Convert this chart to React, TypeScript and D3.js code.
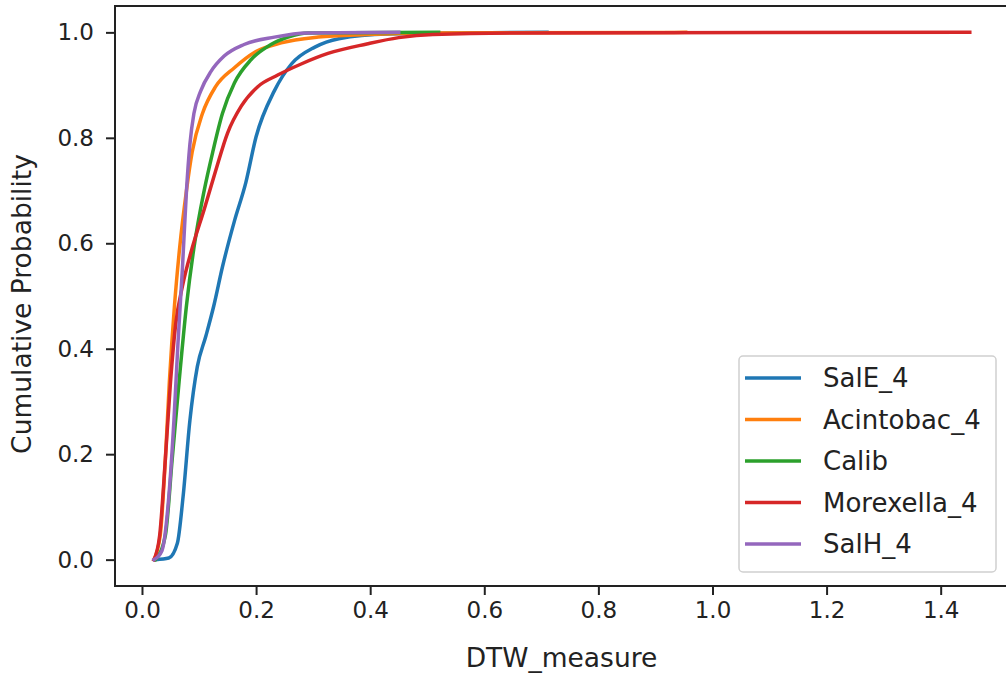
import React, { useEffect, useRef } from "react";
import * as d3 from "d3";

// series names and colours (matplotlib tab10 order)
const seriesNames = ["SalE_4", "Acintobac_4", "Calib", "Morexella_4", "SalH_4"];
const seriesColors = ["#1f77b4", "#ff7f0e", "#2ca02c", "#d62728", "#9467bd"];

// CDF points [DTW_measure, cumulative probability]
const salE4: [number, number][] = [
  [0.024, 0], [0.047, 0.003], [0.062, 0.031], [0.072, 0.119], [0.084, 0.264],
  [0.097, 0.366], [0.112, 0.424], [0.126, 0.482], [0.141, 0.555], [0.162, 0.642],
  [0.182, 0.715], [0.2, 0.802], [0.232, 0.889], [0.262, 0.94], [0.303, 0.972],
  [0.345, 0.988], [0.43, 0.997], [0.71, 1.0],
];
const acintobac4: [number, number][] = [
  [0.021, 0], [0.032, 0.046], [0.041, 0.191], [0.048, 0.337], [0.057, 0.482],
  [0.066, 0.591], [0.078, 0.7], [0.088, 0.773], [0.106, 0.846], [0.129, 0.897],
  [0.162, 0.933], [0.197, 0.962], [0.244, 0.98], [0.309, 0.991], [0.394, 0.996],
  [0.5, 0.999], [0.953, 1.0],
];
const calib: [number, number][] = [
  [0.024, 0], [0.041, 0.046], [0.053, 0.191], [0.065, 0.337], [0.078, 0.482],
  [0.091, 0.591], [0.109, 0.7], [0.124, 0.773], [0.141, 0.846], [0.162, 0.904],
  [0.191, 0.948], [0.226, 0.977], [0.256, 0.991], [0.291, 0.999], [0.52, 1.0],
];
const morexella4: [number, number][] = [
  [0.021, 0], [0.031, 0.046], [0.041, 0.191], [0.05, 0.337], [0.059, 0.446],
  [0.071, 0.519], [0.088, 0.591], [0.109, 0.664], [0.129, 0.737], [0.15, 0.809],
  [0.174, 0.86], [0.203, 0.897], [0.238, 0.919], [0.279, 0.94], [0.326, 0.96],
  [0.394, 0.978], [0.45, 0.99], [0.51, 0.996], [0.7, 0.999], [1.451, 1.0],
];
const salH4: [number, number][] = [
  [0.021, 0], [0.035, 0.017], [0.047, 0.119], [0.056, 0.264], [0.063, 0.409],
  [0.071, 0.555], [0.078, 0.7], [0.084, 0.788], [0.091, 0.846], [0.103, 0.889],
  [0.121, 0.926], [0.144, 0.955], [0.179, 0.977], [0.232, 0.991], [0.289, 0.999],
  [0.45, 1.0],
];
const seriesData = [salE4, acintobac4, calib, morexella4, salH4];

const xTicks = [0, 0.2, 0.4, 0.6, 0.8, 1.0, 1.2, 1.4];
const yTicks = [0, 0.2, 0.4, 0.6, 0.8, 1.0];

const App = () => {
  const svgRef = useRef<SVGSVGElement | null>(null);

  useEffect(() => {
    const width = 1006;
    const height = 677;
    const box = { left: 115, right: 1008, top: 6, bottom: 586 };
    const font = "DejaVu Sans, sans-serif";

    const svg = d3.select(svgRef.current);
    svg.selectAll("*").remove();
    svg.attr("width", width).attr("height", height);

    const x = d3.scaleLinear().domain([-0.0473, 1.518]).range([box.left, box.right]);
    const y = d3.scaleLinear().domain([-0.05, 1.05]).range([box.bottom, box.top]);

    // curves
    const line = d3
      .line<[number, number]>()
      .x((d) => x(d[0]))
      .y((d) => y(d[1]))
      .curve(d3.curveMonotoneX);

    svg
      .append("g")
      .selectAll("path")
      .data(seriesData)
      .join("path")
      .attr("d", (d) => line(d))
      .attr("fill", "none")
      .attr("stroke", (_, i) => seriesColors[i])
      .attr("stroke-width", 3.5)
      .attr("stroke-linejoin", "round")
      .attr("stroke-linecap", "square");

    // spines
    svg
      .append("rect")
      .attr("x", box.left)
      .attr("y", box.top)
      .attr("width", box.right - box.left)
      .attr("height", box.bottom - box.top)
      .attr("fill", "none")
      .attr("stroke", "#222")
      .attr("stroke-width", 2);

    // x axis
    const xAxis = svg
      .append("g")
      .attr("transform", `translate(0, ${box.bottom})`)
      .call(
        d3.axisBottom(x).tickValues(xTicks).tickFormat(d3.format(".1f")).tickSize(9).tickPadding(7)
      );
    xAxis.select(".domain").remove();

    // y axis
    const yAxis = svg
      .append("g")
      .attr("transform", `translate(${box.left}, 0)`)
      .call(
        d3.axisLeft(y).tickValues(yTicks).tickFormat(d3.format(".1f")).tickSize(9).tickPadding(12)
      );
    yAxis.select(".domain").remove();

    [xAxis, yAxis].forEach((g) => {
      g.selectAll("line").attr("stroke", "#222").attr("stroke-width", 2);
      g.selectAll("text")
        .attr("fill", "#222")
        .style("font-family", font)
        .style("font-size", "23px");
    });

    // axis labels
    svg
      .append("text")
      .attr("x", (box.left + box.right) / 2)
      .attr("y", 667)
      .attr("text-anchor", "middle")
      .attr("fill", "#222")
      .style("font-family", font)
      .style("font-size", "26.5px")
      .text("DTW_measure");

    svg
      .append("text")
      .attr("transform", `translate(31, ${(box.top + box.bottom) / 2 + 8}) rotate(-90)`)
      .attr("text-anchor", "middle")
      .attr("fill", "#222")
      .style("font-family", font)
      .style("font-size", "26.5px")
      .text("Cumulative Probability");

    // legend
    const legend = svg.append("g").attr("transform", "translate(739, 356)");
    legend
      .append("rect")
      .attr("width", 257)
      .attr("height", 216)
      .attr("rx", 4)
      .attr("fill", "white")
      .attr("fill-opacity", 0.8)
      .attr("stroke", "#d0d0d0")
      .attr("stroke-width", 1.5);

    const entries = legend
      .selectAll("g.entry")
      .data(seriesNames)
      .join("g")
      .attr("class", "entry")
      .attr("transform", (_, i) => `translate(0, ${22 + i * 41.5})`);

    entries
      .append("line")
      .attr("x1", 6)
      .attr("x2", 62)
      .attr("stroke", (_, i) => seriesColors[i])
      .attr("stroke-width", 3.5);

    entries
      .append("text")
      .attr("x", 84)
      .attr("dy", "0.35em")
      .attr("fill", "#222")
      .style("font-family", font)
      .style("font-size", "26px")
      .text((d) => d);
  }, []);

  return (
    <svg
      ref={svgRef}
      style={{ position: "absolute", left: 0, top: 0, background: "white", overflow: "hidden" }}
    />
  );
};

export default App;
